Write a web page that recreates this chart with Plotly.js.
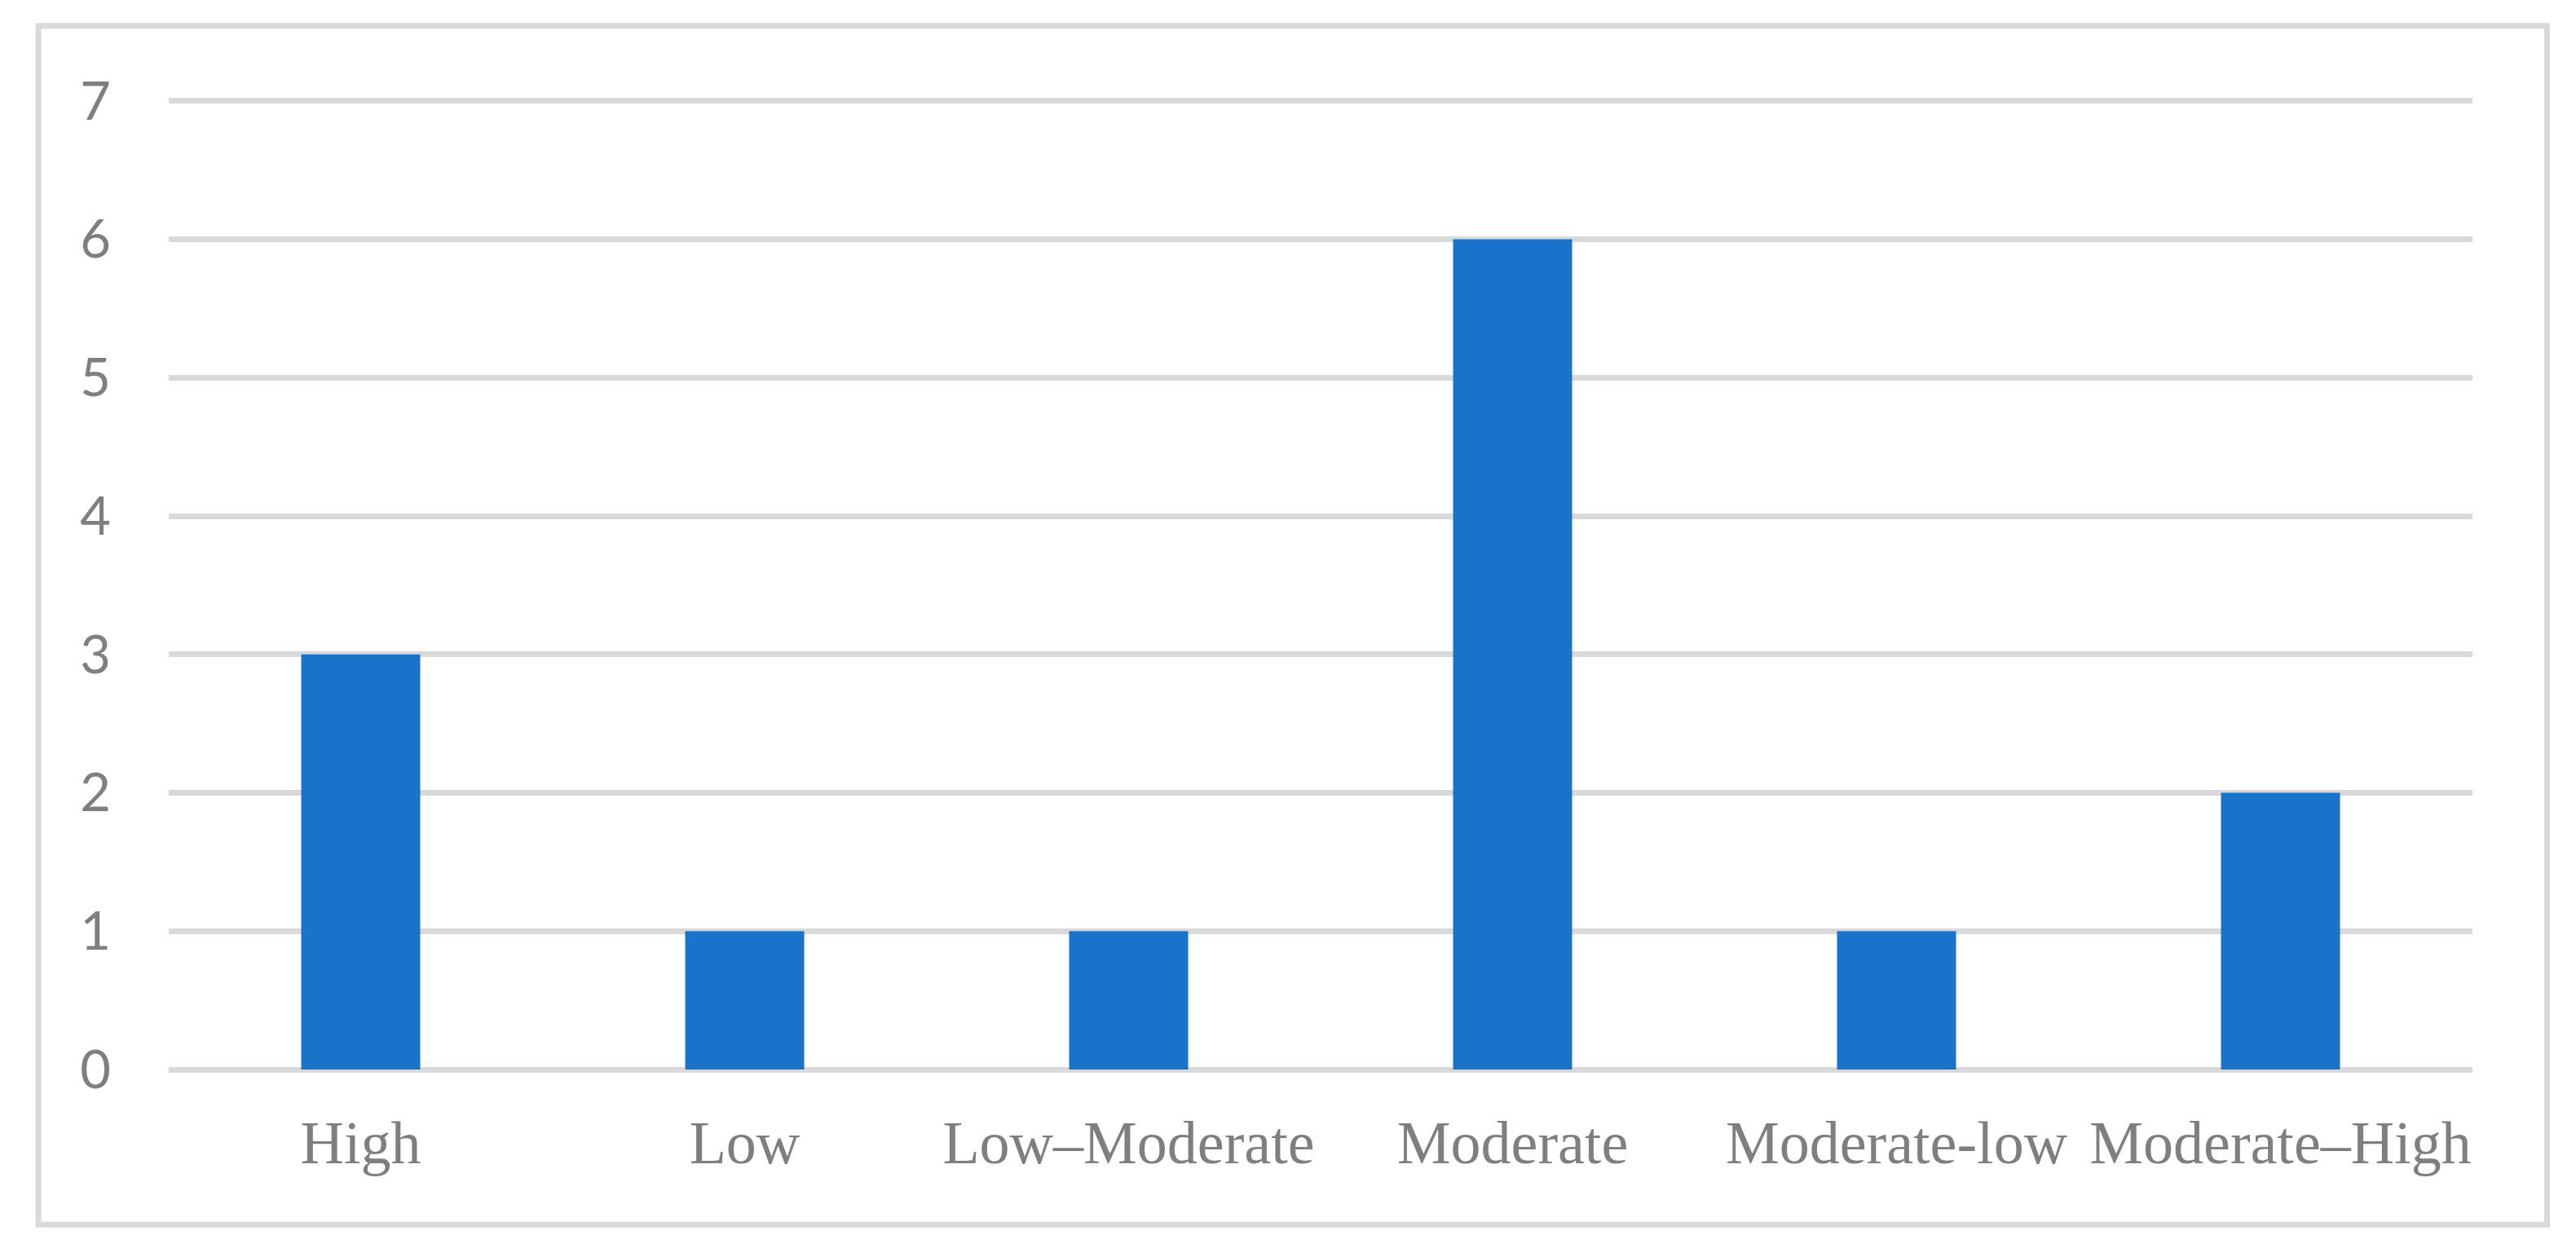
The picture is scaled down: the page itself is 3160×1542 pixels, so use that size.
<!DOCTYPE html>
<html>
<head>
<meta charset="utf-8">
<script src="https://cdn.plot.ly/plotly-3.0.1.min.js"></script>
<style>
html, body { margin: 0; padding: 0; background: #ffffff; }
#chart { width: 3160px; height: 1542px; }
</style>
</head>
<body>
<div id="chart"></div>
<script>
const categories = ["High", "Low", "Low\u2013Moderate", "Moderate", "Moderate-low", "Moderate\u2013High"];
const counts = [3, 1, 1, 6, 1, 2];
const yTickValues = [0, 1, 2, 3, 4, 5, 6, 7];

const W = 3160, H = 1542;
const yMax = 7, yPadTop = 0.04;
const plotL = 206.5, plotR = 3033.5, y7px = 123.5, plotB = 1312.5;
const unit = (plotB - y7px) / yMax;
const plotT = y7px - yPadTop * unit;
const pw = plotR - plotL, ph = plotB - plotT;
const px = v => (v - plotL) / pw;
const py = v => (plotB - v) / ph;

const trace = {
  type: "bar",
  x: categories,
  y: counts,
  marker: { color: "#1873c9", line: { width: 0 } },
  hoverinfo: "x+y"
};

const layout = {
  width: W,
  height: H,
  paper_bgcolor: "#ffffff",
  plot_bgcolor: "#ffffff",
  margin: { l: plotL, r: W - plotR, t: plotT, b: H - plotB, pad: 0 },
  bargap: 0.69,
  showlegend: false,
  xaxis: {
    type: "category",
    showgrid: false,
    showline: false,
    zeroline: false,
    ticks: "",
    tickfont: { family: "Liberation Serif, Times New Roman, serif", size: 74, color: "#7f7f7f" },
    ticklabelstandoff: 40,
    fixedrange: true
  },
  yaxis: {
    range: [0, yMax + yPadTop],
    tickvals: yTickValues,
    ticktext: yTickValues.map(String),
    showgrid: true,
    gridcolor: "#d9d9d9",
    gridwidth: 7,
    zeroline: true,
    zerolinecolor: "#d9d9d9",
    zerolinewidth: 7,
    showline: false,
    ticks: "",
    tickfont: { family: "Lato, Carlito, Calibri, sans-serif", size: 65, color: "#7f7f7f" },
    ticklabelstandoff: 70,
    fixedrange: true
  },
  shapes: [{
    type: "rect",
    xref: "paper", yref: "paper",
    x0: px(46.5), x1: px(3125),
    y0: py(1503), y1: py(31.5),
    line: { color: "#d9d9d9", width: 7 },
    fillcolor: "rgba(0,0,0,0)",
    layer: "below"
  }]
};

Plotly.newPlot("chart", [trace], layout, { displayModeBar: false, staticPlot: true });
</script>
</body>
</html>
